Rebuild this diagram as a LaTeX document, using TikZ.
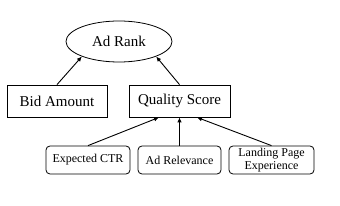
\documentclass[tikz,border=0pt]{standalone}
\usepackage{fontspec}
\setmainfont{Liberation Serif}
\usetikzlibrary{shapes.geometric,arrows.meta}
\begin{document}
\begin{tikzpicture}[x=1pt,y=1pt,
  topbox/.style={draw,line width=0.8pt,inner sep=0pt,minimum width=100pt,minimum height=32pt,font=\fontsize{15}{17}\selectfont},
  subbox/.style={draw,line width=0.8pt,rounded corners=4pt,inner sep=0pt,minimum height=28pt,align=center,font=\fontsize{12}{12.5}\selectfont},
  arr/.style={line width=0.9pt,-{Latex[length=5pt,width=4.5pt]}}]
\useasboundingbox (0,0) rectangle (340,206);
\node[draw,ellipse,line width=0.8pt,inner sep=0pt,minimum width=106pt,minimum height=41pt,font=\fontsize{15}{17}\selectfont] (rank) at (119,164.5) {Ad Rank};
\node[topbox] (bid) at (57,105) {Bid Amount};
\node[topbox,minimum width=101pt] (qs) at (179.5,105) {Quality Score};
\node[subbox,minimum width=84pt] (ctr) at (88,46) {Expected CTR};
\node[subbox,minimum width=83pt] (rel) at (179.5,46) {Ad Relevance};
\node[subbox,minimum width=85pt] (lp) at (271.5,46) {Landing Page\\Experience};
\draw[arr] (bid.north) -- (rank.202);
\draw[arr] (qs.north) -- (rank.338);
\draw[arr] (ctr.north) -- ([xshift=-20.5pt]qs.south);
\draw[arr] (rel.north) -- (qs.south);
\draw[arr] (lp.north) -- ([xshift=17.5pt]qs.south);
\end{tikzpicture}
\end{document}
